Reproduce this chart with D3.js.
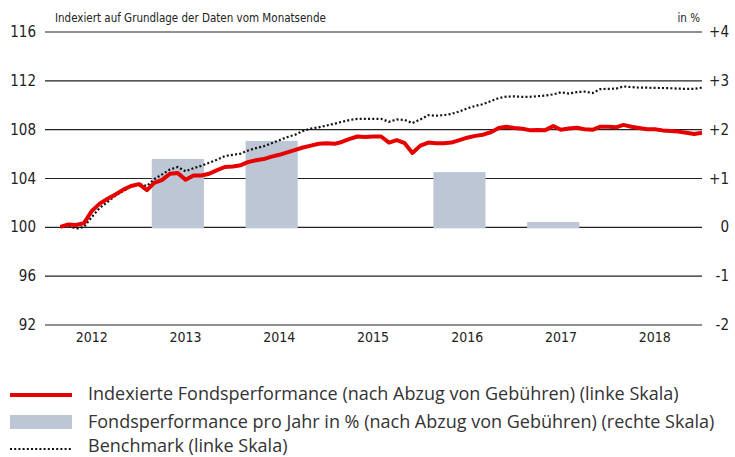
<!DOCTYPE html>
<html>
<head>
<meta charset="utf-8">
<script src="https://cdn.jsdelivr.net/npm/d3@7"></script>
<style>
  body { margin: 0; background: #fff; }
  text { font-family: "DejaVu Sans Condensed", "Liberation Sans Narrow", sans-serif; fill: #222; }
  .legend text { font-family: "Open Sans", "Liberation Sans", sans-serif; fill: #333; }
</style>
</head>
<body>
<script>
// monthly values, month-end, from Feb 2012 to Dec 2018
var startYear = 2012, startMonth = 2; // first point = end of Feb 2012

var fonds = [
  100.0, 100.2, 100.15, 100.3, 101.3, 101.9, 102.3, 102.65, 103.05, 103.35, 103.5,
  103.0, 103.6, 103.85, 104.35, 104.4, 103.85, 104.2, 104.2, 104.35, 104.65, 104.9, 104.95,
  105.05, 105.3, 105.45, 105.55, 105.75, 105.9, 106.1, 106.3, 106.5, 106.65, 106.8, 106.85,
  106.8, 106.95, 107.2, 107.4, 107.35, 107.4, 107.4, 106.9, 107.1, 106.85, 106.05, 106.65,
  106.9, 106.85, 106.85, 106.9, 107.1, 107.3, 107.45, 107.55, 107.75, 108.1, 108.2, 108.1,
  108.03, 107.92, 107.93, 107.92, 108.25, 107.95, 108.05, 108.12, 108.0, 107.95, 108.2, 108.2,
  108.15, 108.35, 108.2, 108.1, 108.0, 108.0, 107.9, 107.85, 107.8, 107.7, 107.6, 107.7
];

var benchmark = [
  100.0, 100.1, 99.85, 100.0, 100.8, 101.55, 102.05, 102.55, 102.95, 103.3, 103.5,
  103.35, 103.9, 104.3, 104.7, 104.9, 104.55, 104.8, 105.0, 105.25, 105.5, 105.8, 105.9,
  106.0, 106.25, 106.45, 106.6, 106.85, 107.1, 107.35, 107.55, 107.85, 108.05, 108.15, 108.3,
  108.45, 108.6, 108.75, 108.85, 108.85, 108.85, 108.85, 108.6, 108.8, 108.75, 108.5, 108.8,
  109.15, 109.1, 109.15, 109.25, 109.45, 109.7, 109.9, 110.05, 110.3, 110.55, 110.67, 110.68,
  110.65, 110.65, 110.7, 110.75, 110.85, 111.02, 110.92, 111.03, 111.08, 110.96, 111.28, 111.3,
  111.32, 111.5, 111.45, 111.4, 111.4, 111.38, 111.37, 111.35, 111.32, 111.3, 111.3, 111.4
];

// yearly performance in % (right scale)
var barYears = [2013, 2014, 2016, 2017];
var barValues = [1.39, 1.76, 1.12, 0.10];

var years = [2012, 2013, 2014, 2015, 2016, 2017, 2018];
var leftTicks = [92, 96, 100, 104, 108, 112, 116];
var rightTicks = ["-2", "-1", "0", "+1", "+2", "+3", "+4"];

var legendLabels = [
  "Indexierte Fondsperformance (nach Abzug von Gebühren) (linke Skala)",
  "Fondsperformance pro Jahr in % (nach Abzug von Gebühren) (rechte Skala)",
  "Benchmark (linke Skala)"
];

var width = 735, height = 457;
var plotL = 45, plotR = 702, plotT = 31.5, plotB = 324.5;

var svg = d3.select("body").append("svg")
    .attr("width", width)
    .attr("height", height);

var x = d3.scaleTime()
    .domain([new Date(2012, 0, 1), new Date(2019, 0, 1)])
    .range([plotL, plotR]);

var y = d3.scaleLinear().domain([92, 116]).range([plotB, plotT]);
var yR = d3.scaleLinear().domain([-2, 4]).range([plotB, plotT]);

function dateAt(i) { return new Date(startYear, startMonth + i, 1); }

// gridlines
svg.append("g")
    .attr("transform", "translate(" + plotL + ",0)")
    .call(d3.axisLeft(y).tickValues(leftTicks).tickSize(-(plotR - plotL)).tickFormat(""))
    .call(g => g.select(".domain").remove())
    .call(g => g.selectAll("line").attr("stroke", "#222").attr("stroke-width", 1.2));

// bars
var barW = x(new Date(2013, 6, 23)) - x(new Date(2013, 0, 1));
svg.append("g")
  .selectAll("rect")
  .data(barYears)
  .enter()
  .append("rect")
    .attr("x", function(d) { return x(new Date(d, 5, 1)) - barW / 2; })
    .attr("y", function(d, i) { return yR(barValues[i]); })
    .attr("width", barW)
    .attr("height", function(d, i) { return yR(0) - yR(barValues[i]) + 1.5; })
    .style("fill", "#bcc6d4");

// left labels
svg.append("g")
  .selectAll("text")
  .data(leftTicks)
  .enter()
  .append("text")
    .attr("x", 36)
    .attr("y", function(d) { return y(d) + 5.5; })
    .attr("text-anchor", "end")
    .style("font-size", "15px")
    .text(function(d) { return d; });

// right labels
svg.append("g")
  .selectAll("text")
  .data(rightTicks)
  .enter()
  .append("text")
    .attr("x", 729)
    .attr("y", function(d) { return yR(+d) + 5.5; })
    .attr("text-anchor", "end")
    .style("font-size", "15px")
    .text(function(d) { return d; });

// year labels
svg.append("g")
  .selectAll("text")
  .data(years)
  .enter()
  .append("text")
    .attr("x", function(d) { return x(new Date(d, 6, 1)); })
    .attr("y", 342)
    .attr("text-anchor", "middle")
    .style("font-size", "14px")
    .text(function(d) { return d; });

svg.append("text")
    .attr("x", 55).attr("y", 22)
    .style("font-size", "11.5px")
    .text("Indexiert auf Grundlage der Daten vom Monatsende");

svg.append("text")
    .attr("x", 700).attr("y", 22)
    .attr("text-anchor", "end")
    .style("font-size", "11.5px")
    .text("in %");

// benchmark line
var lineB = d3.line()
    .x(function(d, i) { return x(dateAt(i)); })
    .y(function(d) { return y(d); });

svg.append("path")
    .datum(benchmark)
    .attr("d", lineB)
    .attr("fill", "none")
    .attr("stroke", "#111")
    .attr("stroke-width", 2.2)
    .attr("stroke-dasharray", "2,2.2");

// fund line
svg.append("path")
    .datum(fonds)
    .attr("d", lineB)
    .attr("fill", "none")
    .attr("stroke", "#e60000")
    .attr("stroke-width", 4)
    .attr("stroke-linejoin", "round");

// legend
var lg = svg.append("g").attr("class", "legend");
lg.append("line")
    .attr("x1", 10).attr("x2", 72).attr("y1", 395).attr("y2", 395)
    .attr("stroke", "#e60000").attr("stroke-width", 4);
lg.append("rect")
    .attr("x", 10).attr("y", 415).attr("width", 62).attr("height", 14)
    .style("fill", "#bcc6d4");
lg.append("line")
    .attr("x1", 10).attr("x2", 72).attr("y1", 449).attr("y2", 449)
    .attr("stroke", "#111").attr("stroke-width", 2.2).attr("stroke-dasharray", "2,2.2");

var legY = [400, 428, 452];
lg.selectAll("text.l")
  .data(legendLabels)
  .enter()
  .append("text")
    .attr("class", "l")
    .attr("x", 88)
    .attr("y", function(d, i) { return legY[i]; })
    .style("font-size", "18px")
    .text(function(d) { return d; });
</script>
</body>
</html>
